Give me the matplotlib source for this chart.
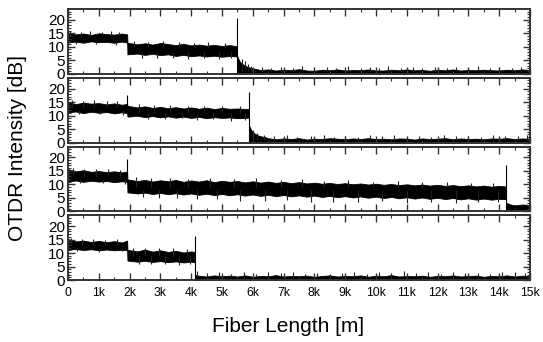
import matplotlib
matplotlib.use("Agg")
import matplotlib.pyplot as plt
from matplotlib.ticker import MultipleLocator

plt.rcParams['font.family'] = ['Liberation Sans', 'DejaVu Sans']

# ---------------- data (x in metres, intensity in dB) ----------------
# Band rows: (distance, lower edge of noisy trace, upper edge of noisy trace)
# Spike rows: (distance, start, end) for single noise excursions
t1_band = [
    (0, 11.6, 15.3), (250, 11.9, 14.6), (500, 11.5, 14.9), (750, 12.0, 14.4), (1000, 11.7, 15.0),
    (1250, 11.8, 14.7), (1500, 11.5, 14.5), (1750, 11.9, 14.9), (1920, 11.6, 14.6),
    (1930, 7.2, 11.5), (2250, 7.5, 10.9), (2500, 7.0, 11.3), (2750, 7.4, 10.8), (3000, 6.9, 11.4),
    (3250, 7.2, 11.0), (3500, 6.6, 10.6), (3750, 7.0, 11.1), (4000, 6.5, 10.5), (4250, 6.8, 10.8),
    (4500, 6.4, 10.4), (4750, 6.7, 10.7), (5000, 6.3, 10.3), (5250, 6.6, 10.6), (5480, 6.4, 10.2),
]
t1_floor_x = [5500, 5550, 5600, 5700, 5800, 5900, 6000, 6250, 6500, 6750, 7000, 7250, 7500,
              7750, 8000, 8250, 8500, 8750, 9000, 9250, 9500, 9750, 10000, 10250, 10500,
              10750, 11000, 11250, 11500, 11750, 12000, 12250, 12500, 12750, 13000, 13250,
              13500, 13750, 14000, 14250, 14500, 14750, 15000]
t1_floor_hi = [6.5, 5.0, 4.2, 3.3, 2.7, 2.3, 2.0, 1.4, 1.6, 1.2, 1.5, 1.3, 1.7,
               1.2, 1.1, 1.5, 1.3, 1.6, 1.2, 1.4, 1.3, 1.6, 1.2, 1.2, 1.5,
               1.3, 1.6, 1.3, 1.4, 1.1, 1.5, 1.3, 1.6, 1.2, 1.4, 1.3,
               1.5, 1.3, 1.2, 1.5, 1.3, 1.6, 1.4]
t1_spikes = [
    (80, 14, 15.9), (420, 14, 15.4), (700, 14, 15.7), (1100, 14, 15.5), (1380, 14, 16.0), (1650, 14, 15.4),
    (250, 12, 10.9), (900, 12, 11.0), (1550, 12, 10.8),
    (2150, 10, 12.1), (2600, 10, 11.8), (3100, 10, 12.2), (3600, 10, 11.7), (4100, 10, 11.5),
    (4550, 10, 11.7), (5100, 10, 11.3), (2400, 8, 6.0), (2900, 8, 5.9), (3400, 8, 5.7), (3900, 8, 5.5),
    (4400, 8, 5.8), (4900, 8, 5.3), (5300, 8, 5.8),
    (5650, 1, 5.4), (5750, 1, 4.6), (5850, 1, 3.7), (5950, 1, 3.0), (6300, 1, 2.6), (6600, 1, 2.2),
    (6900, 1, 2.4), (7300, 1, 2.1), (7600, 1, 2.7), (8000, 1, 2.2), (8400, 1, 2.4), (8700, 1, 2.1),
    (9100, 1, 2.8), (9500, 1, 2.2), (9800, 1, 2.5), (10100, 1, 2.1), (10400, 1, 2.7), (10800, 1, 2.2),
    (11200, 1, 2.4), (11500, 1, 2.1), (11900, 1, 2.6), (12300, 1, 2.2), (12600, 1, 2.4),
    (13000, 1, 2.1), (13300, 1, 2.7), (13700, 1, 2.2), (14000, 1, 2.4), (14400, 1, 2.1), (14700, 1, 2.6),
]
t1_peak_x = [5490]
t1_peak_base = [0]
t1_peak_y = [20.5]

t2_band = [
    (0, 11.2, 15.0), (250, 11.5, 14.2), (500, 10.9, 14.8), (750, 11.4, 14.4), (1000, 11.0, 14.6),
    (1250, 11.3, 14.1), (1500, 10.8, 14.5), (1750, 11.2, 14.0), (1920, 10.9, 14.3),
    (1930, 9.6, 13.6), (2250, 9.9, 13.0), (2500, 9.4, 13.4), (2750, 9.8, 12.8), (3000, 9.3, 13.2),
    (3250, 9.7, 12.7), (3500, 9.2, 13.1), (3750, 9.6, 12.6), (4000, 9.1, 13.0), (4250, 9.5, 12.5),
    (4500, 9.0, 12.9), (4750, 9.4, 12.4), (5000, 9.1, 12.8), (5250, 9.3, 12.5), (5500, 9.0, 12.6),
    (5870, 9.2, 12.4),
]
t2_floor_x = [5890, 5950, 6000, 6100, 6200, 6300, 6400, 6500, 6750, 7000, 7250, 7500, 7750,
              8000, 8250, 8500, 8750, 9000, 9250, 9500, 9750, 10000, 10250, 10500, 10750,
              11000, 11250, 11500, 11750, 12000, 12250, 12500, 12750, 13000, 13250, 13500,
              13750, 14000, 14250, 14500, 14750, 15000]
t2_floor_hi = [6.0, 4.6, 3.8, 3.0, 2.5, 2.2, 2.0, 1.6, 1.2, 1.5, 1.3, 1.6, 1.1,
               1.4, 1.3, 1.6, 1.4, 1.2, 1.5, 1.3, 1.6, 1.3, 1.4, 1.2, 1.5,
               1.4, 1.1, 1.5, 1.3, 1.4, 1.6, 1.2, 1.5, 1.3, 1.4, 1.2,
               1.5, 1.4, 1.6, 1.3, 1.5, 1.4]
t2_spikes = [
    (120, 13, 15.8), (480, 13, 15.2), (860, 13, 15.6), (1250, 13, 15.3), (1600, 13, 15.5),
    (350, 12, 10.4), (1050, 12, 10.5), (1800, 12, 10.3),
    (2300, 11, 14.2), (2800, 11, 13.8), (3300, 11, 14.0), (3900, 11, 13.6), (4400, 11, 13.7),
    (5000, 11, 13.5), (5600, 11, 13.4), (2600, 11, 8.7), (3150, 11, 8.6), (3700, 11, 8.9),
    (4200, 11, 8.4), (4700, 11, 8.6), (5300, 11, 7.8), (5750, 11, 8.5),
    (6000, 1, 4.5), (6150, 1, 3.4), (6350, 1, 2.6), (6700, 1, 2.3), (7100, 1, 2.6), (7450, 1, 2.1),
    (7900, 1, 2.4), (8300, 1, 2.7), (8650, 1, 2.2), (9000, 1, 2.5), (9400, 1, 2.1), (9800, 1, 2.6),
    (10200, 1, 2.3), (10600, 1, 2.8), (11000, 1, 2.2), (11400, 1, 2.5), (11800, 1, 2.1),
    (12200, 1, 2.6), (12600, 1, 2.3), (13000, 1, 2.5), (13400, 1, 2.2), (13800, 1, 2.6),
    (14200, 1, 2.3), (14600, 1, 2.5), (14900, 1, 2.7),
]
t2_peak_x = [1930, 5880]
t2_peak_base = [12, 0]
t2_peak_y = [17.5, 18.8]

t3_band = [
    (0, 11.0, 15.6), (250, 11.4, 14.8), (500, 10.9, 15.2), (750, 11.3, 14.6), (1000, 11.0, 14.9),
    (1250, 11.2, 14.5), (1500, 10.8, 14.8), (1750, 11.1, 14.4), (1920, 10.9, 14.7),
    (1930, 7.0, 11.8), (2250, 6.6, 11.2), (2500, 6.9, 11.6), (2750, 6.4, 11.0), (3000, 6.8, 11.5),
    (3250, 6.3, 11.1), (3500, 6.7, 11.6), (3750, 6.2, 10.9), (4000, 6.6, 11.4), (4250, 6.1, 11.0),
    (4500, 6.5, 11.5), (4750, 6.0, 10.8), (5000, 6.4, 11.3), (5250, 5.9, 10.9), (5500, 6.3, 11.2),
    (5750, 5.8, 10.7), (6000, 6.2, 11.1), (6250, 5.7, 10.6), (6500, 6.1, 11.0), (6750, 5.6, 10.5),
    (7000, 6.0, 10.9), (7250, 5.5, 10.4), (7500, 5.9, 10.8), (7750, 5.4, 10.3), (8000, 5.8, 10.6),
    (8250, 5.3, 10.2), (8500, 5.7, 10.5), (8750, 5.2, 10.1), (9000, 5.6, 10.4), (9250, 5.1, 10.0),
    (9500, 5.5, 10.3), (9750, 5.0, 9.9), (10000, 5.4, 10.2), (10250, 4.9, 9.8), (10500, 5.3, 10.1),
    (10750, 4.8, 9.7), (11000, 5.2, 10.0), (11250, 4.7, 9.6), (11500, 5.1, 9.9), (11750, 4.6, 9.5),
    (12000, 5.0, 9.8), (12250, 4.5, 9.4), (12500, 4.9, 9.7), (12750, 4.4, 9.3), (13000, 4.8, 9.6),
    (13250, 4.3, 9.2), (13500, 4.7, 9.5), (13750, 4.3, 9.1), (14000, 4.6, 9.4), (14200, 4.5, 9.2),
]
t3_floor_x = [14220, 14300, 14400, 14500, 14750, 15000]
t3_floor_hi = [3.2, 2.8, 2.4, 2.2, 2.5, 2.3]
t3_spikes = [
    (150, 13, 16.0), (520, 13, 15.8), (900, 13, 15.5), (1300, 13, 15.6), (1700, 13, 15.4),
    (400, 12, 10.3), (1150, 12, 10.4), (1850, 12, 10.2),
    (2200, 9, 12.6), (2700, 9, 12.3), (3300, 9, 12.5), (3900, 9, 12.0), (4600, 9, 12.4),
    (5400, 9, 11.9), (6100, 9, 12.2), (6900, 9, 11.6), (7600, 9, 11.8), (8300, 9, 11.3),
    (9100, 9, 11.5), (9900, 9, 11.0), (10700, 9, 11.2), (11500, 9, 10.7), (12300, 9, 10.9),
    (13100, 9, 10.5), (13800, 9, 10.3),
    (2450, 8, 5.2), (2950, 8, 4.9), (3550, 8, 4.8), (4200, 8, 4.4), (4850, 8, 4.6), (5600, 8, 3.9),
    (6400, 8, 3.8), (7100, 8, 4.2), (7900, 8, 3.4), (8600, 8, 3.6), (9400, 8, 3.3), (10200, 8, 3.7),
    (11000, 8, 3.1), (11800, 8, 3.5), (12600, 8, 3.0), (13300, 8, 3.3), (13950, 8, 3.6),
]
t3_peak_x = [1930, 14210]
t3_peak_base = [13, 0]
t3_peak_y = [19.2, 17.3]

t4_band = [
    (0, 11.2, 15.2), (250, 11.5, 14.3), (500, 11.1, 14.6), (750, 11.4, 14.1), (1000, 11.0, 14.5),
    (1250, 11.3, 14.0), (1500, 11.0, 14.4), (1750, 11.2, 13.9), (1920, 11.0, 14.6),
    (1930, 7.2, 11.2), (2250, 6.8, 10.6), (2500, 7.1, 11.3), (2750, 6.7, 10.5), (3000, 7.0, 11.0),
    (3250, 6.6, 10.4), (3500, 6.9, 10.8), (3750, 6.5, 10.2), (4000, 6.8, 10.6), (4100, 6.6, 10.4),
]
t4_floor_x = [4120, 4250, 4500, 4750, 5000, 5250, 5500, 5750, 6000, 6250, 6500, 6750, 7000,
              7250, 7500, 7750, 8000, 8250, 8500, 8750, 9000, 9250, 9500, 9750, 10000, 10250,
              10500, 10750, 11000, 11250, 11500, 11750, 12000, 12250, 12500, 12750, 13000,
              13250, 13500, 13750, 14000, 14250, 14500, 14750, 15000]
t4_floor_hi = [1.8, 1.6, 1.3, 1.7, 1.4, 1.6, 1.3, 1.7, 1.2, 1.5, 1.4, 1.8, 1.3,
               1.5, 1.4, 1.6, 1.2, 1.5, 1.7, 1.3, 1.5, 1.4, 1.7, 1.2, 1.6, 1.4,
               1.8, 1.3, 1.5, 1.4, 1.6, 1.2, 1.5, 1.4, 1.7, 1.3, 1.5,
               1.6, 1.2, 1.5, 1.4, 1.7, 1.3, 1.6, 1.4]
t4_spikes = [
    (100, 13, 15.6), (450, 13, 15.1), (800, 13, 15.3), (1200, 13, 14.9), (1600, 13, 15.2),
    (300, 12, 10.6), (1000, 12, 10.4), (1750, 12, 10.7),
    (2100, 9, 11.8), (2500, 9, 12.0), (2950, 9, 11.7), (3400, 9, 11.9), (3850, 9, 11.5),
    (2300, 9, 6.0), (2700, 9, 5.9), (3150, 9, 6.1), (3600, 9, 5.5), (3950, 9, 5.8),
    (4200, 1, 3.2), (4500, 1, 2.6), (4900, 1, 3.0), (5300, 1, 2.4), (5700, 1, 2.8), (6100, 1, 2.3),
    (6500, 1, 2.9), (6900, 1, 2.5), (7300, 1, 3.1), (7700, 1, 2.4), (8100, 1, 2.7), (8500, 1, 2.3),
    (8900, 1, 2.6), (9300, 1, 2.8), (9700, 1, 2.4), (10100, 1, 2.9), (10500, 1, 2.5), (10900, 1, 3.2),
    (11300, 1, 2.6), (11700, 1, 2.9), (12100, 1, 2.4), (12500, 1, 2.8), (12900, 1, 2.5),
    (13300, 1, 2.7), (13700, 1, 2.4), (14100, 1, 2.9), (14500, 1, 3.1), (14850, 1, 2.6),
]
t4_peak_x = [4110]
t4_peak_base = [0]
t4_peak_y = [16.2]

traces = [
    (t1_band, t1_floor_x, t1_floor_hi, t1_spikes, t1_peak_x, t1_peak_base, t1_peak_y),
    (t2_band, t2_floor_x, t2_floor_hi, t2_spikes, t2_peak_x, t2_peak_base, t2_peak_y),
    (t3_band, t3_floor_x, t3_floor_hi, t3_spikes, t3_peak_x, t3_peak_base, t3_peak_y),
    (t4_band, t4_floor_x, t4_floor_hi, t4_spikes, t4_peak_x, t4_peak_base, t4_peak_y),
]

x_ticks = [0, 1000, 2000, 3000, 4000, 5000, 6000, 7000, 8000, 9000,
           10000, 11000, 12000, 13000, 14000, 15000]
x_tick_labels = ['0', '1k', '2k', '3k', '4k', '5k', '6k', '7k', '8k', '9k',
                 '10k', '11k', '12k', '13k', '14k', '15k']
y_ticks = [0, 5, 10, 15, 20]

# ---------------- figure ----------------
W, H = 543, 342
fig = plt.figure(figsize=(W / 100, H / 100), dpi=100)

left_px, right_px = 68, 530
top_px, bottom_px = 9, 280
gap = 4
ph = (bottom_px - top_px - 3 * gap) / 4.0

spine_col = '#333333'
for i, (band, fx, fhi, spikes, px, pb, py) in enumerate(traces):
    y0 = top_px + i * (ph + gap)
    ax = fig.add_axes([left_px / W, 1 - (y0 + ph) / H, (right_px - left_px) / W, ph / H])
    bx = [r[0] for r in band]
    blo = [r[1] for r in band]
    bhi = [r[2] for r in band]
    ax.fill_between(bx, blo, bhi, color='black', linewidth=0.6, edgecolor='black')
    ax.fill_between(fx, 0, fhi, color='black', linewidth=0.6, edgecolor='black')
    ax.vlines([s[0] for s in spikes], [s[1] for s in spikes], [s[2] for s in spikes],
              color='#222222', linewidth=0.8)
    ax.vlines(px, pb, py, color='black', linewidth=0.8)
    ax.set_xlim(0, 15000)
    ax.set_ylim(0, 24)
    ax.set_xticks(x_ticks)
    ax.xaxis.set_minor_locator(MultipleLocator(500))
    ax.set_yticks(y_ticks)
    ax.yaxis.set_minor_locator(MultipleLocator(1))
    ax.tick_params(which='both', direction='in', top=True, right=True, color=spine_col)
    ax.tick_params(which='major', length=5, width=1.0)
    ax.tick_params(which='minor', length=2.5, width=0.8)
    ax.tick_params(axis='y', labelsize=11, pad=2)
    ax.tick_params(axis='x', labelsize=8.7, pad=5)
    for s in ax.spines.values():
        s.set_linewidth(1.4)
        s.set_color(spine_col)
    if i < 3:
        ax.set_xticklabels([])
    else:
        ax.set_xticklabels(x_tick_labels)

fig.text(18 / W, 1 - 148 / H, 'OTDR Intensity [dB]', rotation=90, ha='center', va='center',
         fontsize=15)
fig.text(288 / W, 1 - 326 / H, 'Fiber Length [m]', ha='center', va='center',
         fontsize=15)

fig.savefig('out.png', dpi=100)
